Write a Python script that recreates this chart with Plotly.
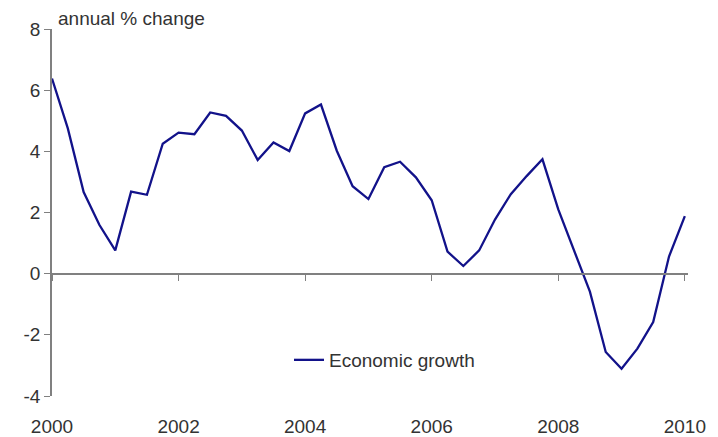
import plotly.graph_objects as go

# Quarterly data, 2000 Q1 .. 2010 Q1
years = [2000 + 0.25 * i for i in range(41)]
growth = [6.38, 4.75, 2.67, 1.59, 0.76, 2.68, 2.58, 4.25, 4.61, 4.56,
          5.27, 5.16, 4.68, 3.72, 4.29, 4.01, 5.24, 5.53, 4.02, 2.86,
          2.44, 3.48, 3.66, 3.15, 2.40, 0.72, 0.25, 0.76, 1.77, 2.60,
          3.19, 3.74, 2.10, 0.78, -0.59, -2.56, -3.11, -2.45, -1.58, 0.56,
          1.88]
series_name = "Economic growth"
y_title = "annual % change"
x_ticks = [2000, 2002, 2004, 2006, 2008, 2010]
y_ticks = [-4, -2, 0, 2, 4, 6, 8]
y_ticktext = [str(v) for v in y_ticks]

# page body adds an 8px offset; figure sized to fit the window
W, H = 710, 429
L, R, T, B = 44, 30, 21, 41
pw, ph = W - L - R, H - T - B
FONT = "Liberation Sans, Arial, sans-serif"
FS = 19
TXT = "#333333"
AX = "#808080"

fig = go.Figure()
fig.add_trace(go.Scatter(
    x=years, y=growth, mode="lines", name=series_name,
    line=dict(color="#12128a", width=2.3),
))
# empty trace so the zero-crossing axis is drawn
fig.add_trace(go.Scatter(x=[], y=[], xaxis="x2", showlegend=False, hoverinfo="skip"))

yr = [-4, 8]
fig.update_layout(
    width=W, height=H,
    margin=dict(l=L, r=R, t=T, b=B, autoexpand=False),
    paper_bgcolor="white", plot_bgcolor="white",
    font=dict(family=FONT, size=FS, color=TXT),
    showlegend=True,
    legend=dict(x=(281 - L) / pw, y=(H - B - 352) / ph, xanchor="left", yanchor="middle",
                bgcolor="rgba(0,0,0,0)", font=dict(size=FS, color=TXT)),
    xaxis=dict(range=[2000, 2010.05], tickvals=x_ticks, showline=False, showgrid=False,
               zeroline=False, ticks="outside", ticklen=13, tickcolor="rgba(0,0,0,0)",
               automargin=False),
    xaxis2=dict(overlaying="x", matches="x", anchor="free",
                position=(0 - yr[0]) / (yr[1] - yr[0]),
                tickvals=x_ticks, showticklabels=False, showline=True, linecolor=AX, linewidth=2,
                ticks="outside", ticklen=6, tickcolor=AX, tickwidth=1, showgrid=False,
                zeroline=False, automargin=False),
    yaxis=dict(range=yr, tickvals=y_ticks, ticktext=y_ticktext, showline=True, linecolor=AX,
               linewidth=1.5, ticks="outside", ticklen=6, tickcolor=AX, showgrid=False,
               zeroline=False, automargin=False),
    annotations=[dict(text=y_title, xref="paper", yref="paper", x=(48 - L) / pw,
                      y=1 + (T - 10) / ph, xanchor="left", yanchor="middle", showarrow=False,
                      font=dict(size=FS, color=TXT))],
)
fig.write_html("out.html")
